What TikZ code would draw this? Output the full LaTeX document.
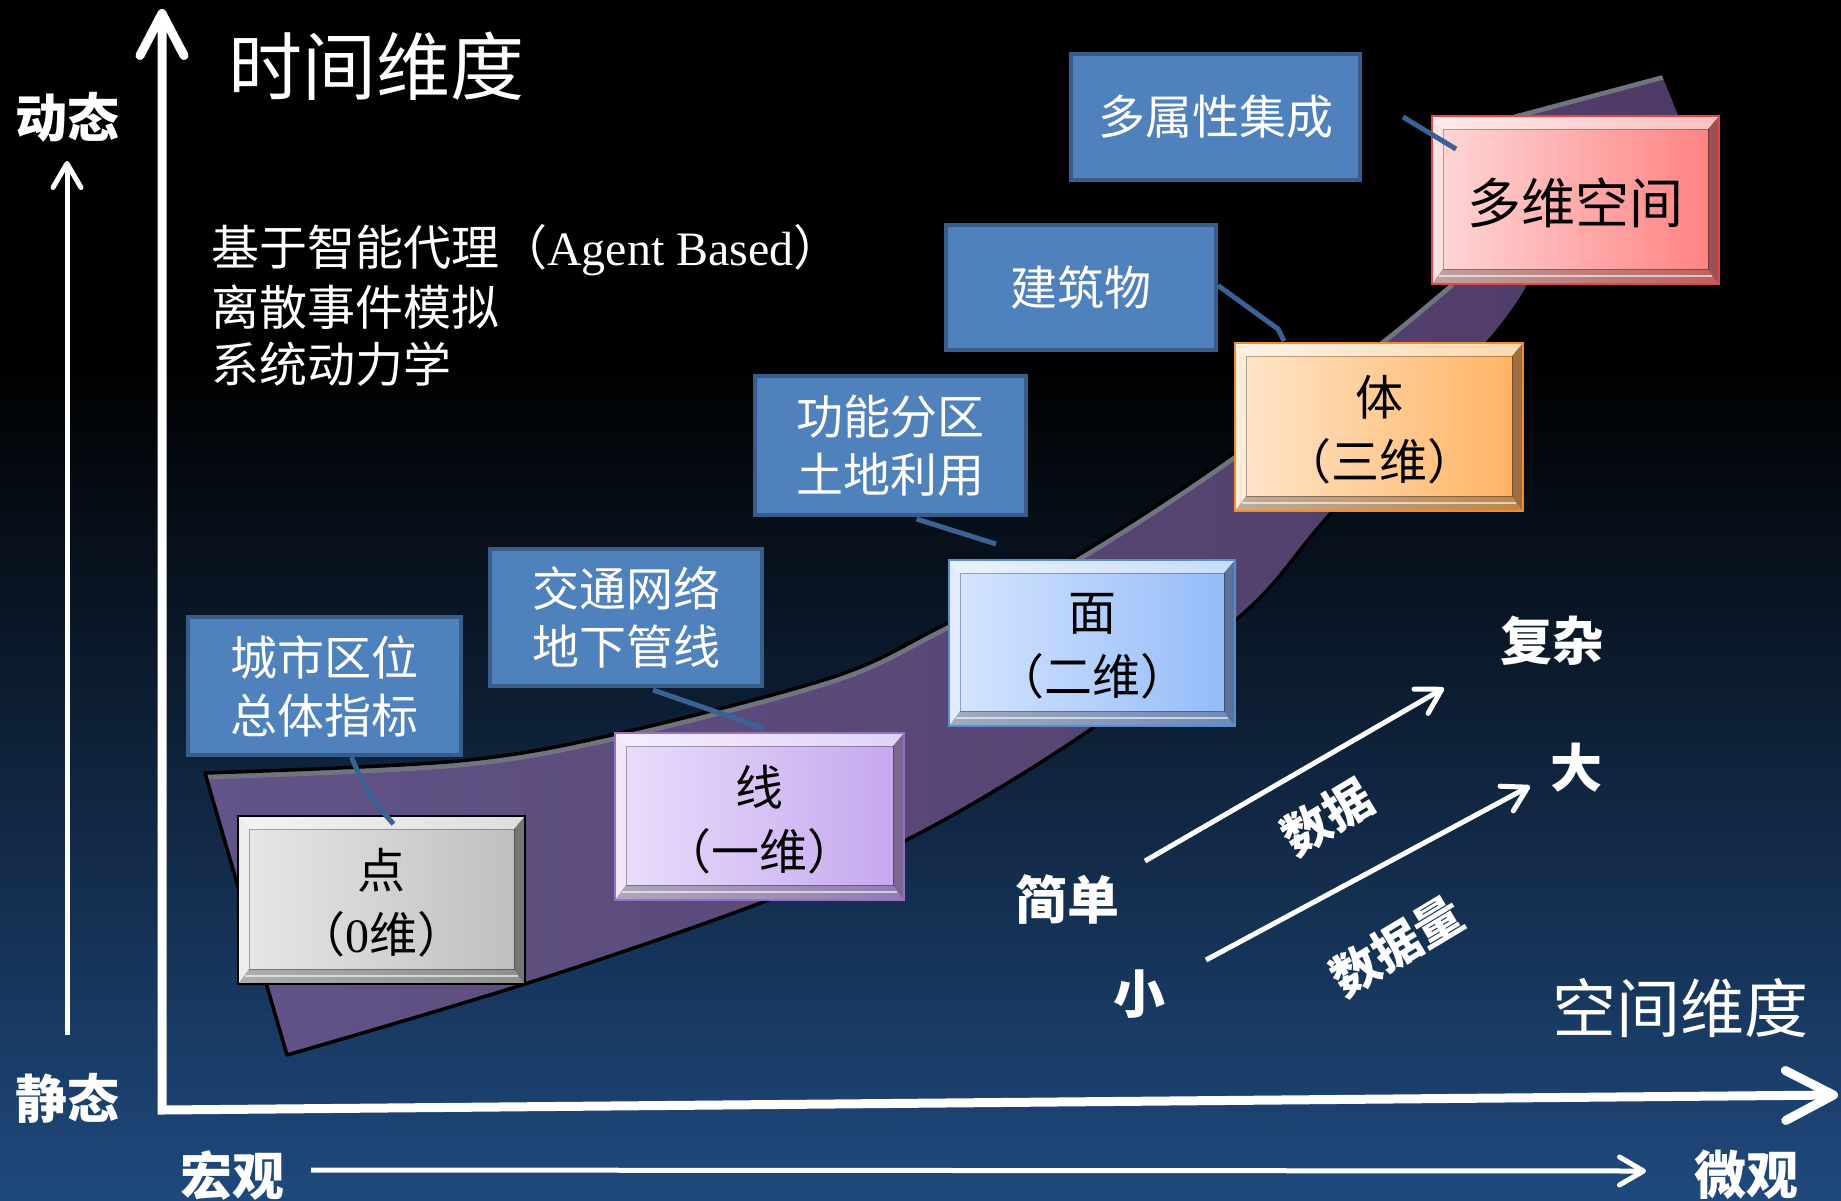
\documentclass[tikz,border=0pt]{standalone}
\usepackage{fontspec}
\setmainfont{Liberation Serif}
\newfontfamily\cjk{Noto Sans CJK SC}
\usetikzlibrary{arrows.meta,calc}
\definecolor{bgbot}{RGB}{31,73,125}
\definecolor{bandl}{RGB}{98,84,136}
\definecolor{bandr}{RGB}{78,58,100}
\definecolor{bandhl}{RGB}{112,116,128}
\definecolor{boxblue}{RGB}{79,129,189}
\definecolor{boxedge}{RGB}{56,93,138}
\definecolor{linkc}{RGB}{58,98,148}
\definecolor{pgl}{RGB}{232,232,232}
\definecolor{pgr}{RGB}{190,190,190}
\definecolor{pul}{RGB}{234,222,252}
\definecolor{pur}{RGB}{196,166,238}
\definecolor{pub}{RGB}{150,112,200}
\definecolor{bll}{RGB}{214,230,255}
\definecolor{blr}{RGB}{146,186,248}
\definecolor{blb}{RGB}{90,140,214}
\definecolor{orl}{RGB}{255,230,204}
\definecolor{orr}{RGB}{255,178,96}
\definecolor{orb}{RGB}{240,140,50}
\definecolor{rdl}{RGB}{255,216,216}
\definecolor{rdr}{RGB}{255,128,128}
\definecolor{rdb}{RGB}{224,72,72}
\newcommand\myfs[2]{\fontsize{#1}{#2}\selectfont}
\newcommand\bandpath{plot[smooth,tension=.55] coordinates {(205,773) (458,761) (616,734) (833,677) (940,627) (1078,555) (1231,455) (1378,341) (1448,283)} -- (1513,113) -- (1663,73) -- (1680,115) -- (1700,140) -- plot[smooth,tension=.55] coordinates {(1530,283) (1489,341) (1331,513) (1245,612) (1084,734) (920,833) (763,902) (528,983) (287,1055)} -- cycle}
\newcommand\bevbox[9]{%
  \node[draw=#8, line width=2.5pt, left color=#6, right color=#7, minimum width=#4pt, minimum height=#5pt, inner sep=0pt, outer sep=0pt] (#1) at (#2,#3) {};
  \fill[white,opacity=.5] (#1.north west) -- (#1.north east) -- ($(#1.north east)+(-11,13)$) -- ($(#1.north west)+(11,13)$) -- cycle;
  \fill[white,opacity=.3] (#1.north west) -- ($(#1.north west)+(11,13)$) -- ($(#1.south west)+(11,-15)$) -- (#1.south west) -- cycle;
  \fill[black,opacity=.38] (#1.north east) -- ($(#1.north east)+(-11,13)$) -- ($(#1.south east)+(-11,-15)$) -- (#1.south east) -- cycle;
  \fill[black,opacity=.25] (#1.south west) -- ($(#1.south west)+(11,-15)$) -- ($(#1.south east)+(-11,-15)$) -- (#1.south east) -- cycle;
  \draw[white,opacity=.6,line width=2pt] ($(#1.south west)+(7,-8)$) -- ($(#1.south east)+(-7,-8)$);
  \draw[black,opacity=.3,line width=1pt] ($(#1.north west)+(11,13)$) rectangle ($(#1.south east)+(-11,-15)$);
  \draw[#8, line width=2.5pt] (#1.north west) rectangle (#1.south east);
  \node[boxtxt] at ($(#1.center)+(0,3)$) {#9};
}
\begin{document}
\begin{tikzpicture}[x=1pt,y=-1pt,
  bluebox/.style={draw=boxedge, line width=4pt, fill=boxblue, text=white, font=\cjk\myfs{47}{58}, align=center, inner sep=0pt},
  boxtxt/.style={text=black, font=\cjk\myfs{48}{64}, align=center, inner sep=0pt},
  blab/.style={text=white, font=\cjk\bfseries\myfs{52}{52}, inner sep=0pt},
  wtxt/.style={text=white, font=\cjk\myfs{48}{57}, inner sep=0pt, anchor=west},
  link/.style={draw=linkc, line width=5pt},
  thinarrow/.style={draw=white, line width=5pt, -{Straight Barb[length=24pt,width=28pt,round]}}]
\useasboundingbox (0,0) rectangle (1841,1200);
\fill[black] (0,0) rectangle (1841,362);
\shade[top color=black, bottom color=bgbot] (0,360) rectangle (1841,1200);
% band
\shade[left color=bandl, right color=bandr] \bandpath;
\begin{scope}
  \clip \bandpath;
  \draw[bandhl, line width=13pt] plot[smooth,tension=.55] coordinates {(205,773) (458,761) (616,734) (833,677) (940,627) (1078,555) (1231,455) (1378,341) (1448,283)} -- (1513,113) -- (1663,73);
\end{scope}
\draw[black, line width=3.5pt, line join=round] \bandpath;
% axes
\draw[white, line width=9pt, {Straight Barb[length=42pt,width=44pt,round]}-{Straight Barb[length=48pt,width=50pt,round]}] (162,9) -- (162,1110) -- (1838,1095);
\coordinate (la0) at (67,1035);
\coordinate (la1) at (67,161);
\draw[thinarrow] (la0) -- (la1);
\coordinate (ba0) at (311,1170);
\coordinate (ba1) at (1646,1171);
\draw[thinarrow] (ba0) -- (ba1);
% labels
\node[blab] (dt) at (67,117) {动态};
\node[blab] (jt) at (67,1098) {静态};
\node[blab] (hg) at (232,1175) {宏观};
\node[blab] (wg) at (1746,1175) {微观};
\node[text=white, font=\cjk\myfs{74}{74}, inner sep=0pt] (sjwd) at (376,66) {时间维度};
\node[text=white, font=\cjk\myfs{64}{64}, inner sep=0pt] (kjwd) at (1680,1008) {空间维度};
\node[wtxt] (t1) at (211,250) {基于智能代理（{\rmfamily Agent Based}）};
\node[wtxt] (t2) at (211,307) {离散事件模拟};
\node[wtxt] (t3) at (211,364) {系统动力学};
% blue boxes
\node[bluebox, minimum width=273pt, minimum height=138pt] (b1) at (324.5,686) {城市区位\\总体指标};
\node[bluebox, minimum width=272pt, minimum height=137pt] (b2) at (626,617.5) {交通网络\\地下管线};
\node[bluebox, minimum width=271pt, minimum height=139pt] (b3) at (890.5,445.5) {功能分区\\土地利用};
\node[bluebox, minimum width=270pt, minimum height=125pt] (b4) at (1081,287.5) {建筑物};
\node[bluebox, minimum width=289pt, minimum height=126pt] (b5) at (1215.5,117) {多属性集成};
% bevel boxes
\bevbox{p0}{381.5}{900}{287}{168}{pgl}{pgr}{black}{点\\（{\rmfamily 0}维）}
\bevbox{p1}{759.5}{816.5}{289}{167}{pul}{pur}{pub}{线\\（一维）}
\bevbox{p2}{1092}{643}{286}{166}{bll}{blr}{blb}{面\\（二维）}
\bevbox{p3}{1379}{427}{288}{168}{orl}{orr}{orb}{体\\（三维）}
\bevbox{p4}{1575.5}{200}{287}{168}{rdl}{rdr}{rdb}{\myfs{54}{60}多维空间}
% connectors
\draw[link] ($(b1.south)+(27,0)$) to[bend right=10] ($(p0.north)+(12,8)$);
\draw[link] ($(b2.south)+(27,2)$) -- ($(p1.north)+(3.5,-5)$);
\coordinate (c3) at (996,544);
\draw[link] ($(b3.south)+(26,2)$) -- (c3);
\draw[link] ($(b4.east)+(0,-2)$) -- ($(p3.north)+(-101,-14)$) -- ($(p3.north)+(-95,-2)$);
\coordinate (c5) at (1403,117);
\draw[link] (c5) -- ($(p4.north west)+(24,33)$);
% data arrows
\coordinate (a1s) at (1145,861);
\coordinate (a1e) at (1444,688);
\coordinate (a2s) at (1206,960);
\coordinate (a2e) at (1530,786);
\draw[thinarrow] (a1s) -- (a1e);
\draw[thinarrow] (a2s) -- (a2e);
\node[blab] (jd) at (1067,899) {简单};
\node[blab] (xiao) at (1139,994) {小};
\node[blab] (fz) at (1552,641) {复杂};
\node[blab] (da) at (1576,768) {大};
\node[blab, font=\cjk\bfseries\myfs{48}{48}, rotate=31] (sj) at (1327,817) {数据};
\node[blab, font=\cjk\bfseries\myfs{48}{48}, rotate=31] (sjl) at (1397,946) {数据量};
\end{tikzpicture}
\end{document}
